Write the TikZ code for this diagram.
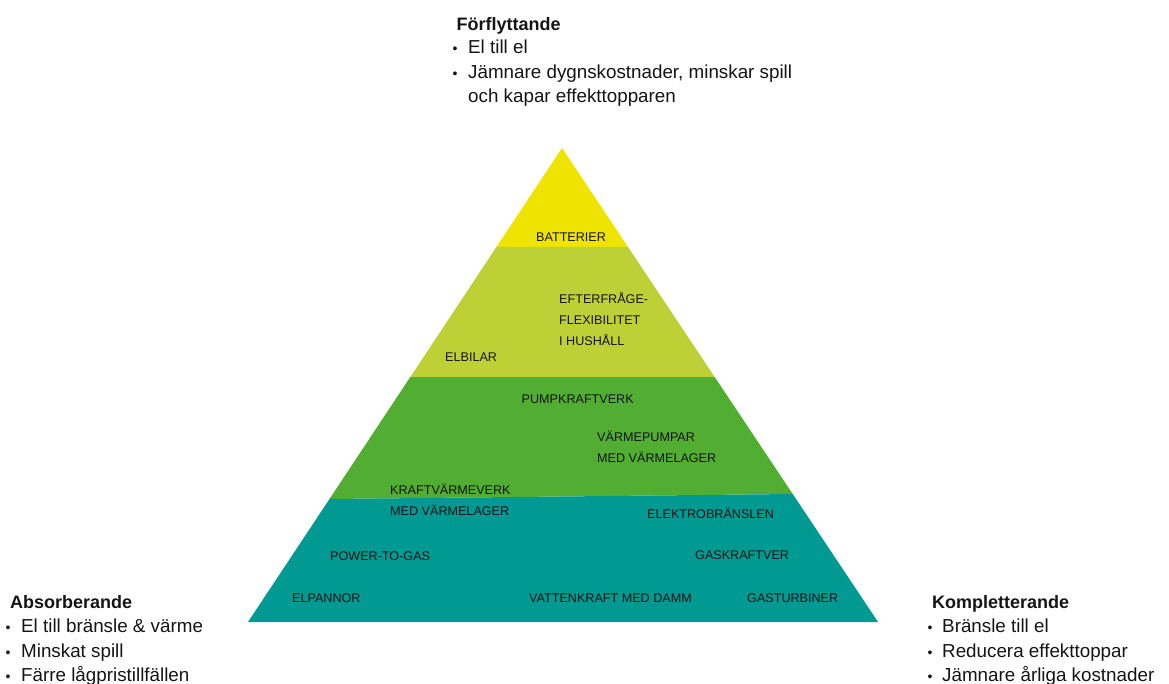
\documentclass[tikz,border=0pt]{standalone}
\usepackage{fontspec}
\setmainfont{Liberation Sans}
\definecolor{cyel}{RGB}{239,227,0}
\definecolor{clime}{RGB}{189,209,54}
\definecolor{cgreen}{RGB}{82,173,51}
\definecolor{cteal}{RGB}{0,154,146}
\definecolor{ctext}{RGB}{20,20,20}
\begin{document}
\begin{tikzpicture}[x=1pt,y=-1pt,
  lbl/.style={anchor=base west,inner sep=0pt,text=ctext,font=\fontsize{12.6}{12.6}\selectfont},
  body/.style={anchor=base west,inner sep=0pt,text=ctext,font=\fontsize{18.8}{18.8}\selectfont},
  head/.style={anchor=base west,inner sep=0pt,text=ctext,font=\fontsize{18}{18}\selectfont\bfseries},
  bul/.style={anchor=base,inner sep=0pt,text=ctext,font=\fontsize{14}{14}\selectfont}]
\useasboundingbox (0,0) rectangle (1169,684);
% pyramid layers
\coordinate (apex) at (562,148);
\coordinate (y1l) at (496.4,247); \coordinate (y1r) at (628,247);
\coordinate (y2l) at (410.3,377); \coordinate (y2r) at (714.7,377);
\coordinate (y3l) at (329.5,499); \coordinate (y3r) at (792.7,494);
\coordinate (bl) at (248,622); \coordinate (br) at (878,622);
\fill[cyel] (apex) -- (y1r) -- (y1l) -- cycle;
\fill[clime] (y1l) -- (y1r) -- (y2r) -- (y2l) -- cycle;
\fill[cgreen] (y2l) -- (y2r) -- (y3r) -- (y3l) -- cycle;
\fill[cteal] (y3l) -- (y3r) -- (br) -- (bl) -- cycle;
% pyramid labels
\node[lbl] (batt) at (536,242) {BATTERIER};
\node[lbl] (eff1) at (559,303.3) {EFTERFRÅGE-};
\node[lbl] (eff2) at (559,324.3) {FLEXIBILITET};
\node[lbl] (eff3) at (559,345.3) {I HUSHÅLL};
\node[lbl] (elb) at (445,361) {ELBILAR};
\node[lbl] (pump) at (521.5,403.5) {PUMPKRAFTVERK};
\node[lbl] (vp1) at (597,441.5) {VÄRMEPUMPAR};
\node[lbl] (vp2) at (597,462.5) {MED VÄRMELAGER};
\node[lbl] (kv1) at (390,494.5) {KRAFTVÄRMEVERK};
\node[lbl] (kv2) at (390,515.5) {MED VÄRMELAGER};
\node[lbl] (elek) at (647,518) {ELEKTROBRÄNSLEN};
\node[lbl] (ptg) at (330,560) {POWER-TO-GAS};
\node[lbl] (gask) at (695,559) {GASKRAFTVER};
\node[lbl] (elp) at (292,602) {ELPANNOR};
\node[lbl] (vatt) at (529,602) {VATTENKRAFT MED DAMM};
\node[lbl] (gast) at (747,602) {GASTURBINER};
% top text
\node[head] (fh) at (456.5,31) {Förflyttande};
\node[bul] (fb1) at (455,54) {•};
\node[body] (ft1) at (468,54) {El till el};
\node[bul] (fb2) at (455,78.5) {•};
\node[body] (ft2) at (468,78.5) {Jämnare dygnskostnader, minskar spill};
\node[body] (ft3) at (468,103) {och kapar effekttopparen};
% bottom left
\node[head] (ah) at (10,608) {Absorberande};
\node[bul] (ab1) at (8,632.5) {•};
\node[body] (at1) at (21,632.5) {El till bränsle \& värme};
\node[bul] (ab2) at (8,657) {•};
\node[body] (at2) at (21,657) {Minskat spill};
\node[bul] (ab3) at (8,681.5) {•};
\node[body] (at3) at (21,681.5) {Färre lågpristillfällen};
% bottom right
\node[head] (kh) at (932,608) {Kompletterande};
\node[bul] (kb1) at (930,632.5) {•};
\node[body] (kt1) at (942,632.5) {Bränsle till el};
\node[bul] (kb2) at (930,657) {•};
\node[body] (kt2) at (942,657) {Reducera effekttoppar};
\node[bul] (kb3) at (930,681.5) {•};
\node[body] (kt3) at (942,681.5) {Jämnare årliga kostnader};
\end{tikzpicture}
\end{document}
